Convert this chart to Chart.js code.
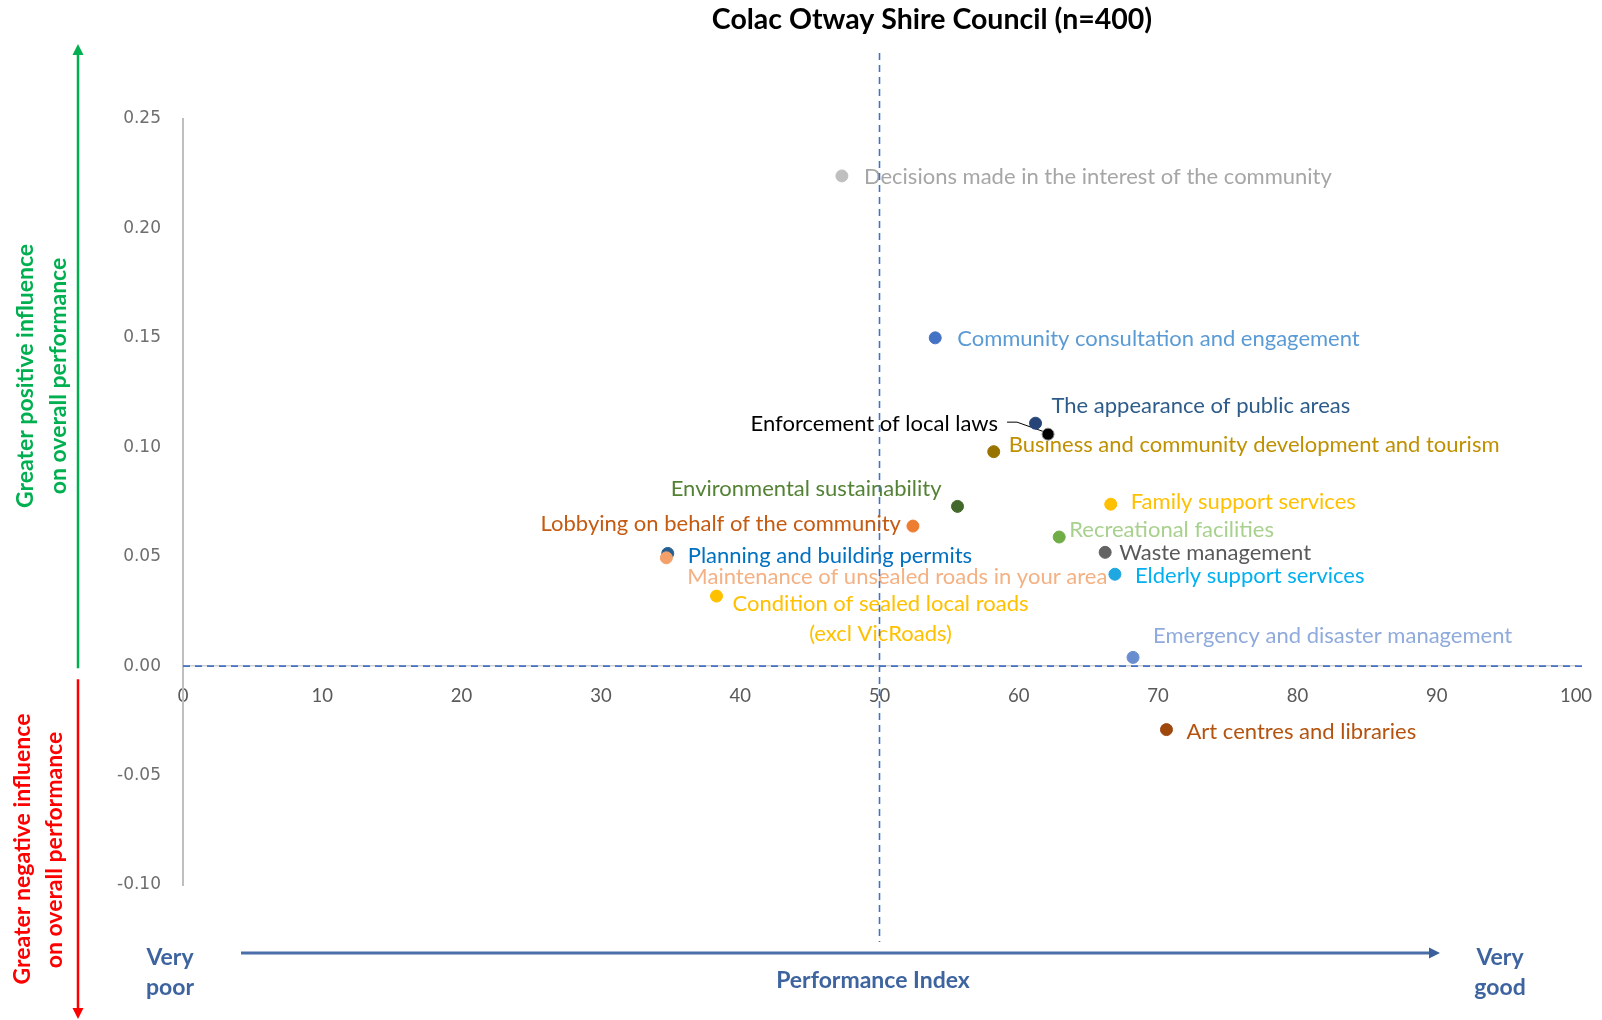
<!DOCTYPE html>
<html>
<head>
<meta charset="utf-8">
<title>Colac Otway Shire Council (n=400)</title>
<script src="https://cdn.jsdelivr.net/npm/chart.js@4.4.1/dist/chart.umd.min.js"></script>
<style>
    html, body { margin: 0; padding: 0; background: #ffffff; }
    #wrap { position: relative; width: 1602px; height: 1020px; }
</style>
</head>
<body>
<div id="wrap"><canvas id="driverChart"></canvas></div>
<script>
// service areas, performance index (x) and influence on overall performance (y)
const serviceAreas = [
    "Decisions made in the interest of the community",
    "Community consultation and engagement",
    "The appearance of public areas",
    "Business and community development and tourism",
    "Enforcement of local laws",
    "Environmental sustainability",
    "Lobbying on behalf of the community",
    "Family support services",
    "Recreational facilities",
    "Waste management",
    "Elderly support services",
    "Planning and building permits",
    "Maintenance of unsealed roads in your area",
    ["Condition of sealed local roads", "(excl VicRoads)"],
    "Emergency and disaster management",
    "Art centres and libraries",
];
const performanceIndex = [47.3, 54.0, 61.2, 58.2, 62.1, 55.6, 52.4, 66.6, 62.9, 66.2, 66.9, 34.8, 34.7, 38.3, 68.2, 70.6];
const influence = [0.224, 0.150, 0.111, 0.098, 0.106, 0.073, 0.064, 0.074, 0.059, 0.052, 0.042, 0.0515, 0.0495, 0.032, 0.004, -0.029];

const xTickValues = [0, 10, 20, 30, 40, 50, 60, 70, 80, 90, 100];
const yTickValues = [-0.10, -0.05, 0.00, 0.05, 0.10, 0.15, 0.20, 0.25];

const pointColors = [
    "#BFBFBF", "#4472C4", "#264478", "#997300", "#000000", "#43682B", "#ED7D31", "#FFC000",
    "#70AD47", "#636363", "#1FA7E1", "#255E91", "#F4A06A", "#FFC000", "#698ED0", "#9E480E",
];
const labelColors = [
    "#A6A6A6", "#5B9BD5", "#2E5C8A", "#BF9000", "#000000", "#548235", "#C55A11", "#FFC000",
    "#A9D18E", "#595959", "#00B0F0", "#0070C0", "#F4B183", "#FFC000", "#8FAADC", "#B4530F",
];
// label offset from its point: dx, dy, text alignment
const labelPlacement = [
    [22, 1, "left"], [22, 1, "left"], [16, -17, "left"], [15, -7, "left"],
    [-50, -10, "right"], [-16, -17, "right"], [-12, -2, "right"], [20, -2, "left"],
    [10, -7, "left"], [14, 1, "left"], [20, 2, "left"], [20, 2, "left"],
    [21, 19, "left"], [164, 8, "center"], [20, -21, "left"], [20, 2, "left"],
];

const LABEL_FONT = "22px Lato";
const SIDE_FONT = "bold 23px Lato";
const FOOT_FONT = "bold 23px Lato";
const AXIS_BLUE = "#3E64A0";

function arrowHead(ctx, x, y, dir, size) {
    // dir: "up", "down", "right"
    ctx.beginPath();
    if (dir === "up") {
        ctx.moveTo(x, y); ctx.lineTo(x - size / 2, y + size); ctx.lineTo(x + size / 2, y + size);
    } else if (dir === "down") {
        ctx.moveTo(x, y); ctx.lineTo(x - size / 2, y - size); ctx.lineTo(x + size / 2, y - size);
    } else {
        ctx.moveTo(x, y); ctx.lineTo(x - size, y - size / 2); ctx.lineTo(x - size, y + size / 2);
    }
    ctx.closePath();
    ctx.fill();
}

function sideText(ctx, text, x, yc, color) {
    ctx.save();
    ctx.translate(x, yc);
    ctx.rotate(-Math.PI / 2);
    ctx.font = SIDE_FONT;
    ctx.fillStyle = color;
    ctx.textAlign = "center";
    ctx.textBaseline = "middle";
    ctx.fillText(text, 0, 0);
    ctx.restore();
}

// point labels and the two dashed reference lines, drawn under the markers
const pointLabels = {
    id: "pointLabels",
    beforeDatasetsDraw(chart) {
        const { ctx, chartArea, scales: { x, y } } = chart;
        const meta = chart.getDatasetMeta(0);
        ctx.save();
        ctx.font = LABEL_FONT;
        ctx.textBaseline = "middle";
        meta.data.forEach((pt, i) => {
            const [dx, dy, align] = labelPlacement[i];
            const lines = [].concat(serviceAreas[i]);
            ctx.fillStyle = labelColors[i];
            ctx.textAlign = align;
            lines.forEach((line, j) => ctx.fillText(line, pt.x + dx, pt.y + dy + j * 30));
        });

        // leader line for Enforcement of local laws
        const k = serviceAreas.indexOf("Enforcement of local laws");
        const p = meta.data[k];
        ctx.strokeStyle = "#000000";
        ctx.lineWidth = 1;
        ctx.beginPath();
        ctx.moveTo(p.x - 41, p.y - 12);
        ctx.lineTo(p.x - 31, p.y - 12);
        ctx.lineTo(p.x - 3, p.y - 2);
        ctx.stroke();

        // reference lines at 50 and 0
        const midX = x.getPixelForValue(50);
        const zeroY = y.getPixelForValue(0);
        ctx.strokeStyle = "#4472C4";
        ctx.lineWidth = 1.6;
        ctx.setLineDash([7, 5]);
        ctx.beginPath();
        ctx.moveTo(chartArea.left, zeroY);
        ctx.lineTo(chartArea.right + 9, zeroY);
        ctx.moveTo(midX, chartArea.top - 66);
        ctx.lineTo(midX, chartArea.bottom + 57);
        ctx.stroke();
        ctx.restore();
    },
};

// title, influence arrows and the performance index arrow
const frame = {
    id: "frame",
    afterDraw(chart) {
        const { ctx, scales: { y } } = chart;
        const zeroY = y.getPixelForValue(0);
        ctx.save();

        ctx.fillStyle = "#000000";
        ctx.font = "bold 28.5px Lato";
        ctx.textAlign = "center";
        ctx.textBaseline = "middle";
        ctx.fillText("Colac Otway Shire Council (n=400)", 932, 20);

        // green up / red down arrows
        ctx.lineWidth = 2.5;
        ctx.strokeStyle = "#00B050";
        ctx.fillStyle = "#00B050";
        ctx.beginPath();
        ctx.moveTo(78, zeroY + 2);
        ctx.lineTo(78, 52);
        ctx.stroke();
        arrowHead(ctx, 78, 44, "up", 11);

        ctx.strokeStyle = "#FF0000";
        ctx.fillStyle = "#FF0000";
        ctx.beginPath();
        ctx.moveTo(78, zeroY + 13);
        ctx.lineTo(78, 1010);
        ctx.stroke();
        arrowHead(ctx, 78, 1019, "down", 11);

        sideText(ctx, "Greater positive influence", 26, 376, "#00B050");
        sideText(ctx, "on overall performance", 59, 376, "#00B050");
        sideText(ctx, "Greater negative influence", 23, 849, "#FF0000");
        sideText(ctx, "on overall performance", 55, 850, "#FF0000");

        // performance index arrow
        ctx.strokeStyle = "#4A6EA8";
        ctx.fillStyle = "#3A5F9A";
        ctx.lineWidth = 3;
        ctx.beginPath();
        ctx.moveTo(241, 953);
        ctx.lineTo(1430, 953);
        ctx.stroke();
        arrowHead(ctx, 1440, 953, "right", 11);

        ctx.fillStyle = AXIS_BLUE;
        ctx.font = FOOT_FONT;
        ctx.textAlign = "center";
        ctx.fillText("Very", 170, 958);
        ctx.fillText("poor", 170, 988);
        ctx.fillText("Very", 1500, 958);
        ctx.fillText("good", 1500, 988);
        ctx.fillText("Performance Index", 873, 981);
        ctx.restore();
    },
};

const ctx = document.getElementById("driverChart").getContext("2d");
const driverChart = new Chart(ctx, {
    type: "scatter",
    data: {
        datasets: [
            {
                data: performanceIndex.map((v, i) => ({ x: v, y: influence[i] })),
                backgroundColor: pointColors,
                borderColor: pointColors.map((c) => (c === "#000000" ? "#8C8C8C" : c)),
                borderWidth: 1,
                pointRadius: 6,
                pointHoverRadius: 6,
            },
        ],
    },
    options: {
        responsive: true,
        maintainAspectRatio: false,
        animation: false,
        layout: {
            padding: { left: 0, top: 119, right: 26, bottom: 135 },
        },
        plugins: {
            legend: { display: false },
            tooltip: { enabled: false },
            title: { display: false },
        },
        scales: {
            x: {
                type: "linear",
                position: { y: 0 },
                min: 0,
                max: 100,
                afterBuildTicks: (axis) => {
                    axis.ticks = xTickValues.map((v) => ({ value: v }));
                },
                afterFit: (axis) => {
                    // end labels may overhang; keep the plot width fixed
                    axis.paddingLeft = 0;
                    axis.paddingRight = 0;
                },
                ticks: {
                    color: "#595959",
                    font: { family: "Lato", size: 18.5 },
                    padding: 19,
                },
                grid: { display: false, drawTicks: false, tickLength: 0 },
                border: { display: true, color: "#D0D0D0", width: 1.5 },
            },
            y: {
                type: "linear",
                position: "left",
                min: -0.1,
                max: 0.25,
                afterBuildTicks: (axis) => {
                    axis.ticks = yTickValues.map((v) => ({ value: v }));
                },
                afterFit: (axis) => {
                    axis.width = 183;
                },
                ticks: {
                    color: "#6E6E6E",
                    font: { family: "DejaVu Sans", size: 17 },
                    padding: 22,
                    callback: (v) => (Math.abs(v) < 1e-9 ? 0 : v).toFixed(2),
                },
                grid: { display: false, drawTicks: false, tickLength: 0 },
                border: { display: true, color: "#BFBFBF", width: 2 },
            },
        },
    },
    plugins: [pointLabels, frame],
});
</script>
</body>
</html>
